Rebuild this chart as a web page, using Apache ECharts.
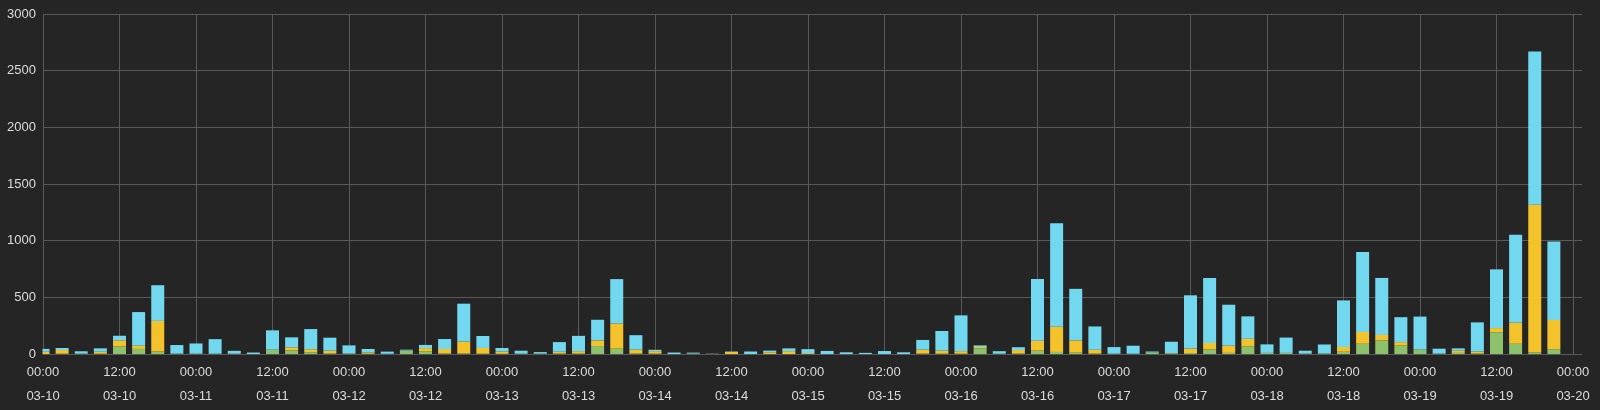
<!DOCTYPE html>
<html>
<head>
<meta charset="utf-8">
<script src="https://cdn.jsdelivr.net/npm/echarts@6/dist/echarts.min.js"></script>
<style>
html,body{margin:0;padding:0;background:#262525;}
#c{width:1600px;height:410px;}
</style>
</head>
<body>
<div id="c"></div>
<script>
// 3-hourly buckets from 03-10 00:00 to 03-20 00:00 (last slot is the axis end, no data)
var startTime = Date.UTC(2023, 2, 10, 0, 0);
var stepHours = 3;
var slotCount = 81;
var green = [0,3,4,3,68,45,22,4,3,3, 0,0,38,32,15,5,3,2,2,32, 24,5,5,3,2,3,5,5,5,70, 47,5,5,0,4,2,0,0,0,0, 0,0,0,0,0,0,5,3,3,50, 3,5,30,18,12,5,3,3,12,5, 8,40,10,68,10,10,4,6,20,90, 120,75,40,5,10,5,192,90,15,42];
var yellow = [20,32,0,17,53,28,270,0,0,0, 3,0,0,27,27,24,3,12,0,0, 28,39,105,50,20,0,0,15,20,50, 223,33,20,0,0,0,18,0,15,25, 8,0,0,0,0,0,33,26,22,12, 0,30,87,222,108,32,0,0,0,3, 40,57,63,66,0,0,0,0,42,105, 48,30,0,0,20,17,37,185,1302,258];
var blue = [25,18,20,30,40,297,315,75,90,128, 25,13,171,88,178,115,70,30,19,6, 28,88,334,106,31,26,12,85,135,182, 391,128,12,13,8,1,4,22,15,25, 35,27,15,10,26,15,86,174,316,14, 22,25,545,913,455,206,58,70,10,100, 470,573,362,198,75,135,25,78,411,705, 503,220,290,42,20,257,518,777,1352,692];
var yTicks = [0, 500, 1000, 1500, 2000, 2500, 3000];

var categories = [];
for (var i = 0; i < slotCount; i++) {
  categories.push(echarts.time.format(startTime + i * stepHours * 3600 * 1000, '{HH}:{mm}\n{MM}-{dd}', true));
}

var bg = '#262525';
var labelColor = '#dcdcdc';
var gridColor = '#595959';
var font = 'Liberation Sans, Arial, sans-serif';

var chart = echarts.init(document.getElementById('c'));
chart.setOption({
  backgroundColor: bg,
  animation: false,
  grid: [
    {left: 43, right: 27, top: 14, bottom: 56},
    {left: 43, right: 18, top: 14, bottom: 56}
  ],
  // plot-area edge mask: the first bucket's bar is cut at the left edge of the grid
  graphic: [
    {type: 'rect', left: 36, top: 10, shape: {width: 6.5, height: 344}, style: {fill: bg}, z: 100, silent: true}
  ],
  xAxis: [
    {
      type: 'category', gridIndex: 0, data: categories, boundaryGap: false,
      axisLine: {show: false}, axisTick: {show: false},
      splitLine: {show: true, interval: 3, lineStyle: {color: gridColor, width: 1}},
      axisLabel: {
        interval: 3, color: labelColor, fontSize: 13, fontFamily: font, lineHeight: 24, margin: 6
      }
    },
    {
      type: 'value', gridIndex: 1, min: 0, max: 1,
      axisLine: {show: true, lineStyle: {color: gridColor}}, axisTick: {show: false},
      axisLabel: {show: false}, splitLine: {show: false}
    }
  ],
  yAxis: [
    {
      type: 'value', gridIndex: 0, min: yTicks[0], max: yTicks[yTicks.length - 1], interval: 500,
      axisLine: {show: false}, axisTick: {show: false},
      splitLine: {show: false},
      axisLabel: {color: labelColor, fontSize: 13, fontFamily: font, margin: 7,
        formatter: function (v) { return String(v); }}
    },
    {
      type: 'value', gridIndex: 1, min: yTicks[0], max: yTicks[yTicks.length - 1], interval: 500,
      axisLine: {show: false}, axisTick: {show: false},
      axisLabel: {show: false},
      splitLine: {show: true, lineStyle: {color: gridColor, width: 1}}
    }
  ],
  series: [
    {type: 'bar', name: 'green', stack: 'total', barWidth: 13, data: green, itemStyle: {color: '#8cc26b'}},
    {type: 'bar', name: 'yellow', stack: 'total', barWidth: 13, data: yellow, itemStyle: {color: '#f4c22b'}},
    {type: 'bar', name: 'blue', stack: 'total', barWidth: 13, data: blue, itemStyle: {color: '#72d8f0'}}
  ]
});
</script>
</body>
</html>
